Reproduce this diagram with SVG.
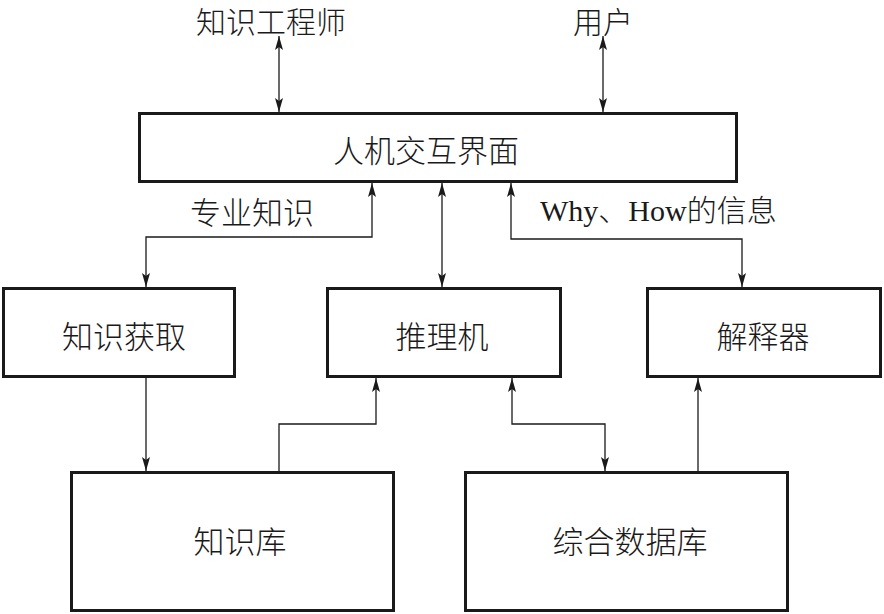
<svg xmlns="http://www.w3.org/2000/svg" width="884" height="614" viewBox="0 0 884 614">
<style>
.box{fill:#fff;stroke:#1a1a1a;stroke-width:3}
.conn{fill:none;stroke:#1a1a1a;stroke-width:1.3}
.t{font-family:"Noto Sans CJK SC",sans-serif;font-size:31px;font-weight:300;fill:#1a1a1a;text-anchor:middle;dominant-baseline:central}
.top{font-size:30px}
.lat{font-family:"Liberation Serif","Noto Sans CJK SC",serif;font-size:30px}
</style>
<defs>
<marker id="ah" viewBox="0 0 14 8" markerWidth="14" markerHeight="8" refX="14" refY="4" orient="auto-start-reverse" markerUnits="userSpaceOnUse">
<path d="M0,0 L14,4 L0,8 L3,4 Z" fill="#1a1a1a"/>
</marker>
</defs>
<rect width="884" height="614" fill="#fff"/>
<g id="connectors">
<line class="conn" x1="279" y1="36" x2="279" y2="112" marker-start="url(#ah)" marker-end="url(#ah)"/>
<line class="conn" x1="603" y1="36" x2="603" y2="112" marker-start="url(#ah)" marker-end="url(#ah)"/>
<path class="conn" d="M372,183 V237 H146 V287" marker-start="url(#ah)" marker-end="url(#ah)"/>
<line class="conn" x1="442" y1="183" x2="442" y2="287" marker-start="url(#ah)" marker-end="url(#ah)"/>
<path class="conn" d="M511,183 V239 H742 V287" marker-start="url(#ah)" marker-end="url(#ah)"/>
<line class="conn" x1="146" y1="378" x2="146" y2="471" marker-end="url(#ah)"/>
<path class="conn" d="M279,471 V424 H376 V378" marker-end="url(#ah)"/>
<path class="conn" d="M512,378 V424 H605 V471" marker-start="url(#ah)" marker-end="url(#ah)"/>
<line class="conn" x1="698" y1="471" x2="698" y2="378" marker-end="url(#ah)"/>
</g>
<g id="label-engineer"><text class="t top" x="271" y="20">知识工程师</text></g>
<g id="label-user"><text class="t top" x="603" y="20">用户</text></g>
<g id="label-expertise"><text class="t" x="252" y="210">专业知识</text></g>
<g id="label-why"><text class="t lat" x="540" y="210" style="text-anchor:start">Why、How的信息</text></g>
<g id="hci"><rect class="box" x="139.5" y="113.5" width="597" height="68"/><text class="t" x="426" y="148">人机交互界面</text></g>
<g id="acquisition"><rect class="box" x="3.5" y="288.5" width="231" height="88"/><text class="t" x="124" y="334">知识获取</text></g>
<g id="inference"><rect class="box" x="327.5" y="288.5" width="233" height="88"/><text class="t" x="442" y="334">推理机</text></g>
<g id="explainer"><rect class="box" x="647.5" y="288.5" width="233" height="88"/><text class="t" x="763" y="334">解释器</text></g>
<g id="kb"><rect class="box" x="71.5" y="472.5" width="322" height="138"/><text class="t" x="240" y="539">知识库</text></g>
<g id="db"><rect class="box" x="465.5" y="472.5" width="322" height="138"/><text class="t" x="630" y="539">综合数据库</text></g>
</svg>
